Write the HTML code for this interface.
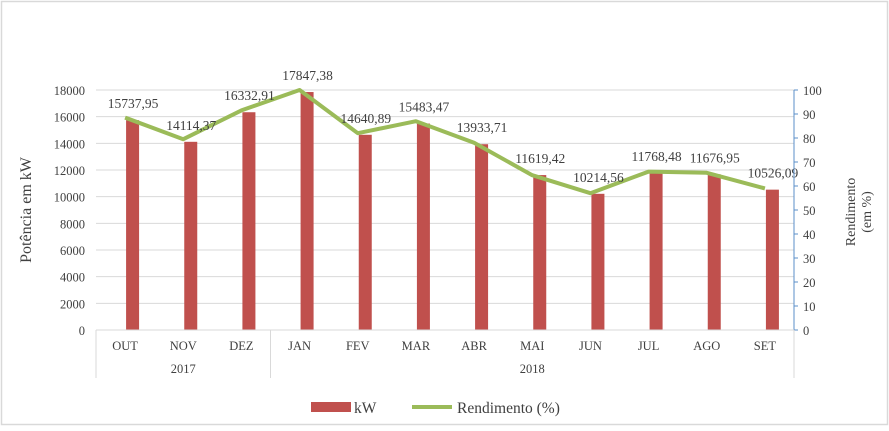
<!DOCTYPE html>
<html><head><meta charset="utf-8"><style>
body{margin:0;background:#fff;}
svg text{font-family:"Liberation Serif",serif;fill:#404040;}
</style></head><body>
<svg width="889" height="426" viewBox="0 0 889 426">
<rect x="1.5" y="1.5" width="886" height="423" fill="#fff" stroke="#d9d9d9" stroke-width="1.5"/>
<g id="grid"></g>
<g id="bars"></g>
<g id="line"></g>
<g id="labels"></g>
<g id="axes"></g>
<text transform="translate(31,210) rotate(-90)" text-anchor="middle" font-size="16">Potência em kW</text>
<text transform="translate(855,212) rotate(-90)" text-anchor="middle" font-size="14"><tspan x="0" dy="0">Rendimento</tspan><tspan x="0" dy="16">(em %)</tspan></text>
<g>
<rect x="311" y="402" width="40" height="10" fill="#c0504d"/>
<text x="354" y="413" font-size="15.5">kW</text>
<line x1="412" y1="407" x2="452" y2="407" stroke="#9bbb59" stroke-width="4"/>
<text x="457" y="413" font-size="15.5">Rendimento (%)</text>
</g>
</svg>
<script>
const categories=["OUT","NOV","DEZ","JAN","FEV","MAR","ABR","MAI","JUN","JUL","AGO","SET"];
const kw=[15737.95,14114.37,16332.91,17847.38,14640.89,15483.47,13933.71,11619.42,10214.56,11768.48,11676.95,10526.09];
const kwLabels=["15737,95","14114,37","16332,91","17847,38","14640,89","15483,47","13933,71","11619,42","10214,56","11768,48","11676,95","10526,09"];
const rendimento=[88.5,79.5,91.5,100,82,87,78,64.5,57,66,65.5,59];
const leftTicks=[0,2000,4000,6000,8000,10000,12000,14000,16000,18000];
const rightTicks=[0,10,20,30,40,50,60,70,80,90,100];
const years=[{label:"2017",from:0,to:3},{label:"2018",from:3,to:12}];
const NS="http://www.w3.org/2000/svg";
const X0=96,X1=794,Y0=330,YT=90;
const band=(X1-X0)/categories.length;
const xc=i=>X0+band*(i+0.5);
const yL=v=>Y0-(v/18000)*(Y0-YT);
const yR=v=>Y0-(v/100)*(Y0-YT);
function mk(tag,attrs,parent,txt){const e=document.createElementNS(NS,tag);for(const k in attrs)e.setAttribute(k,attrs[k]);if(txt!==undefined)e.textContent=txt;document.getElementById(parent).appendChild(e);return e;}
leftTicks.forEach(t=>{
 if(t>0){const g=mk('line',{x1:X0,x2:X1,y1:yL(t),y2:yL(t),stroke:'#d9d9d9','stroke-width':1},'grid');
 
 }
 const l=mk('text',{x:85,y:yL(t)+5,'text-anchor':'end','font-size':12.5},'axes',String(t));
 
 
});
rightTicks.forEach(t=>{
 const tk=mk('line',{x1:X1,x2:X1+4,y1:yR(t),y2:yR(t),stroke:'#5b8fc9','stroke-width':1},'axes');
 
 
 const l=mk('text',{x:803,y:yR(t)+5,'font-size':12.5},'axes',String(t));
 
 
});
const ax=mk('line',{x1:X1,x2:X1,y1:YT,y2:Y0,stroke:'#5b8fc9','stroke-width':1},'axes');


const xa=mk('line',{x1:X0,x2:X1,y1:Y0,y2:Y0,stroke:'#d9d9d9','stroke-width':1},'axes');


kw.forEach((v,i)=>{
 const b=mk('rect',{x:xc(i)+1,y:yL(v),width:13,height:Y0-yL(v),fill:'#c0504d'},'bars');
 
 
 const l=mk('text',{x:xc(i)+8,y:yL(v)-12,'text-anchor':'middle','font-size':13.5},'labels',kwLabels[i]);
 
 
 const c=mk('text',{x:xc(i),y:350,'text-anchor':'middle','font-size':12.5},'axes',categories[i]);
 
 
});
const pl=mk('polyline',{points:rendimento.map((v,i)=>xc(i)+','+yR(v)).join(' '),fill:'none',stroke:'#9bbb59','stroke-width':4,'stroke-linejoin':'round'},'line');


years.forEach(y=>{
 const xa=X0+band*y.from,xb=X0+band*y.to;
 const t=mk('text',{x:(xa+xb)/2,y:373,'text-anchor':'middle','font-size':12.5},'axes',y.label);
 
 
 [xa,xb].forEach(xx=>{
  const s=mk('line',{x1:xx,x2:xx,y1:Y0,y2:378,stroke:'#d9d9d9','stroke-width':1},'axes');
  
  
 });
});
</script>
</body></html>
